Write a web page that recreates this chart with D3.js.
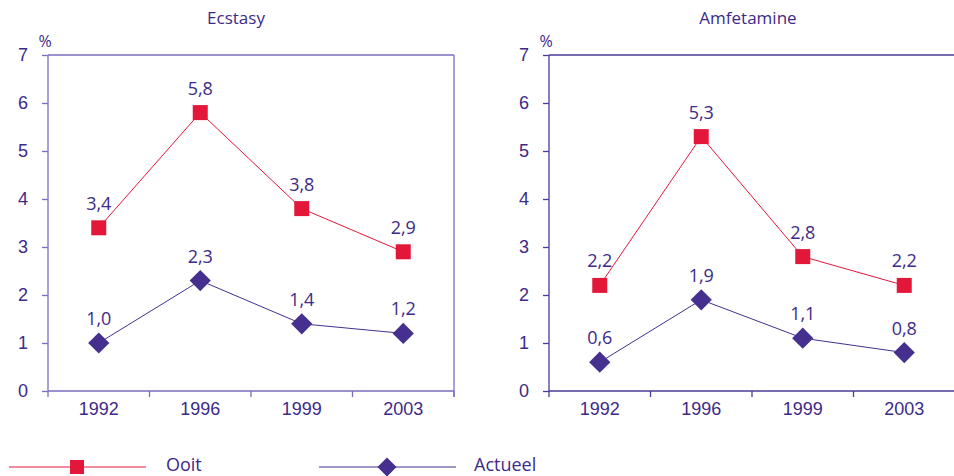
<!DOCTYPE html>
<html>
<head>
<meta charset="utf-8">
<script src="https://cdn.jsdelivr.net/npm/d3@7"></script>
<style>
  body { margin: 0; background: #fff; }
  svg { display: block; font-family: 'Open Sans', 'Noto Sans', sans-serif; }
</style>
</head>
<body>
<div id="chart"></div>
<script>
const years = [ '1992', '1996', '1999', '2003' ];
const yTicks = [ 0, 1, 2, 3, 4, 5, 6, 7 ];

const ecstasyOoit = [ 3.4, 5.8, 3.8, 2.9 ];
const ecstasyActueel = [ 1.0, 2.3, 1.4, 1.2 ];
const amfetamineOoit = [ 2.2, 5.3, 2.8, 2.2 ];
const amfetamineActueel = [ 0.6, 1.9, 1.1, 0.8 ];

const panelTitles = [ 'Ecstasy', 'Amfetamine' ];
const seriesNames = [ 'Ooit', 'Actueel' ];

const red = '#e3173a';
const purple = '#45308f';
const textColor = '#3d2a8a';
const labelStyle = 'font-size:18px;';

const figure_width = 954, figure_height = 476;

const svg = d3.select( '#chart' )
  .append( 'svg' )
    .attr( 'width', figure_width )
    .attr( 'height', figure_height );

// one panel per drug; left/right are the plot edges, titleX where the title sits
const panels = [
  { title: panelTitles[0], ooit: ecstasyOoit, actueel: ecstasyActueel, left: 48, right: 454, titleX: 236, frame: '#7a6dbf', closed: true },
  { title: panelTitles[1], ooit: amfetamineOoit, actueel: amfetamineActueel, left: 549, right: 955, titleX: 748, frame: '#4b3a98', closed: false }
];

const plot_top = 55, plot_bottom = 391;

const y = d3.scaleLinear()
  .domain( [ 0, 7 ] )
  .range( [ plot_bottom, plot_top ] );

const markerSize = 15 * 15;

panels.forEach( function( p ) {
  const g = svg.append( 'g' );

  const x = d3.scaleBand()
    .domain( years )
    .range( [ p.left, p.right ] )
    .padding( 0 );
  const cx = function( d ) { return x( d ) + x.bandwidth() / 2; };

  // title and unit
  g.append( 'text' )
    .attr( 'x', p.titleX )
    .attr( 'y', 24 )
    .attr( 'text-anchor', 'middle' )
    .attr( 'fill', textColor )
    .style( 'font-size', '17px' )
    .text( p.title );
  g.append( 'text' )
    .attr( 'x', p.left - 3 )
    .attr( 'y', 47 )
    .attr( 'text-anchor', 'middle' )
    .attr( 'fill', textColor )
    .style( 'font-size', '16px' )
    .text( '%' );

  // frame: top line (and right line for the left panel)
  g.append( 'line' )
    .attr( 'x1', p.left ).attr( 'x2', p.right )
    .attr( 'y1', plot_top ).attr( 'y2', plot_top )
    .attr( 'stroke', p.frame ).attr( 'stroke-width', 1.3 );
  if ( p.closed ) {
    g.append( 'line' )
      .attr( 'x1', p.right ).attr( 'x2', p.right )
      .attr( 'y1', plot_top ).attr( 'y2', plot_bottom + 6 )
      .attr( 'stroke', p.frame ).attr( 'stroke-width', 1.3 );
  }

  // Y axis
  const yAxis = g.append( 'g' )
    .attr( 'transform', 'translate(' + p.left + ',0)' )
    .call( d3.axisLeft( y ).tickValues( yTicks ).tickFormat( d3.format( 'd' ) ).tickSize( 6 ).tickPadding( 14 ) );
  yAxis.selectAll( 'path, line' ).attr( 'stroke', p.frame ).attr( 'stroke-width', 1.3 );
  yAxis.select( '.domain' ).attr( 'd', 'M0,' + plot_top + 'V' + plot_bottom );
  yAxis.selectAll( 'text' )
    .attr( 'fill', textColor )
    .attr( 'style', labelStyle )
    .attr( 'font-family', null );

  // X axis: labels centred in bands, ticks on band edges
  const xAxis = g.append( 'g' )
    .attr( 'transform', 'translate(0,' + plot_bottom + ')' )
    .call( d3.axisBottom( x ).tickSize( 0 ).tickPadding( 11 ) );
  xAxis.select( '.domain' )
    .attr( 'd', 'M' + p.left + ',0H' + p.right )
    .attr( 'stroke', p.frame ).attr( 'stroke-width', 1.3 );
  xAxis.selectAll( 'text' )
    .attr( 'fill', textColor )
    .attr( 'style', labelStyle )
    .attr( 'font-family', null );
  xAxis.selectAll( '.edge' )
    .data( years.concat( [ null ] ) )
    .enter()
    .append( 'line' )
      .attr( 'x1', function( d ) { return d === null ? x.range()[1] : x( d ); } )
      .attr( 'x2', function( d ) { return d === null ? x.range()[1] : x( d ); } )
      .attr( 'y1', 0 ).attr( 'y2', 6 )
      .attr( 'stroke', p.frame ).attr( 'stroke-width', 1.3 );

  // series
  const series = [
    { values: p.ooit, color: red, rotate: 0 },
    { values: p.actueel, color: purple, rotate: 45 }
  ];

  series.forEach( function( s ) {
    const pts = years.map( function( yr, i ) { return { year: yr, value: s.values[i] }; } );
    g.append( 'path' )
      .datum( pts )
      .attr( 'fill', 'none' )
      .attr( 'stroke', s.color )
      .attr( 'stroke-width', 1 )
      .attr( 'd', d3.line()
        .x( function( d ) { return cx( d.year ); } )
        .y( function( d ) { return y( d.value ); } ) );

    g.selectAll( null )
      .data( pts )
      .enter()
      .append( 'path' )
        .attr( 'd', d3.symbol( d3.symbolSquare, markerSize ) )
        .attr( 'transform', function( d ) { return 'translate(' + cx( d.year ) + ',' + y( d.value ) + ') rotate(' + s.rotate + ')'; } )
        .attr( 'fill', s.color );

    g.selectAll( null )
      .data( pts )
      .enter()
      .append( 'text' )
        .attr( 'x', function( d ) { return cx( d.year ); } )
        .attr( 'y', function( d ) { return y( d.value ) - 18; } )
        .attr( 'text-anchor', 'middle' )
        .attr( 'fill', textColor )
        .attr( 'style', labelStyle )
        .text( function( d ) { return d.value.toFixed( 1 ).replace( '.', ',' ); } );
  });
});

// legend
const legend = [
  { name: seriesNames[0], color: red, x1: 9, x2: 146, mx: 77, size: 14 * 14, rotate: 0, tx: 166 },
  { name: seriesNames[1], color: purple, x1: 319, x2: 456, mx: 387, size: 13.5 * 13.5, rotate: 45, tx: 474 }
];
const legendY = 467;
legend.forEach( function( l ) {
  svg.append( 'line' )
    .attr( 'x1', l.x1 ).attr( 'x2', l.x2 )
    .attr( 'y1', legendY ).attr( 'y2', legendY )
    .attr( 'stroke', l.color ).attr( 'stroke-width', 1 );
  svg.append( 'path' )
    .attr( 'd', d3.symbol( d3.symbolSquare, l.size ) )
    .attr( 'transform', 'translate(' + l.mx + ',' + legendY + ') rotate(' + l.rotate + ')' )
    .attr( 'fill', l.color );
  svg.append( 'text' )
    .attr( 'x', l.tx )
    .attr( 'y', 471 )
    .attr( 'fill', textColor )
    .attr( 'style', labelStyle )
    .text( l.name );
});
</script>
</body>
</html>
